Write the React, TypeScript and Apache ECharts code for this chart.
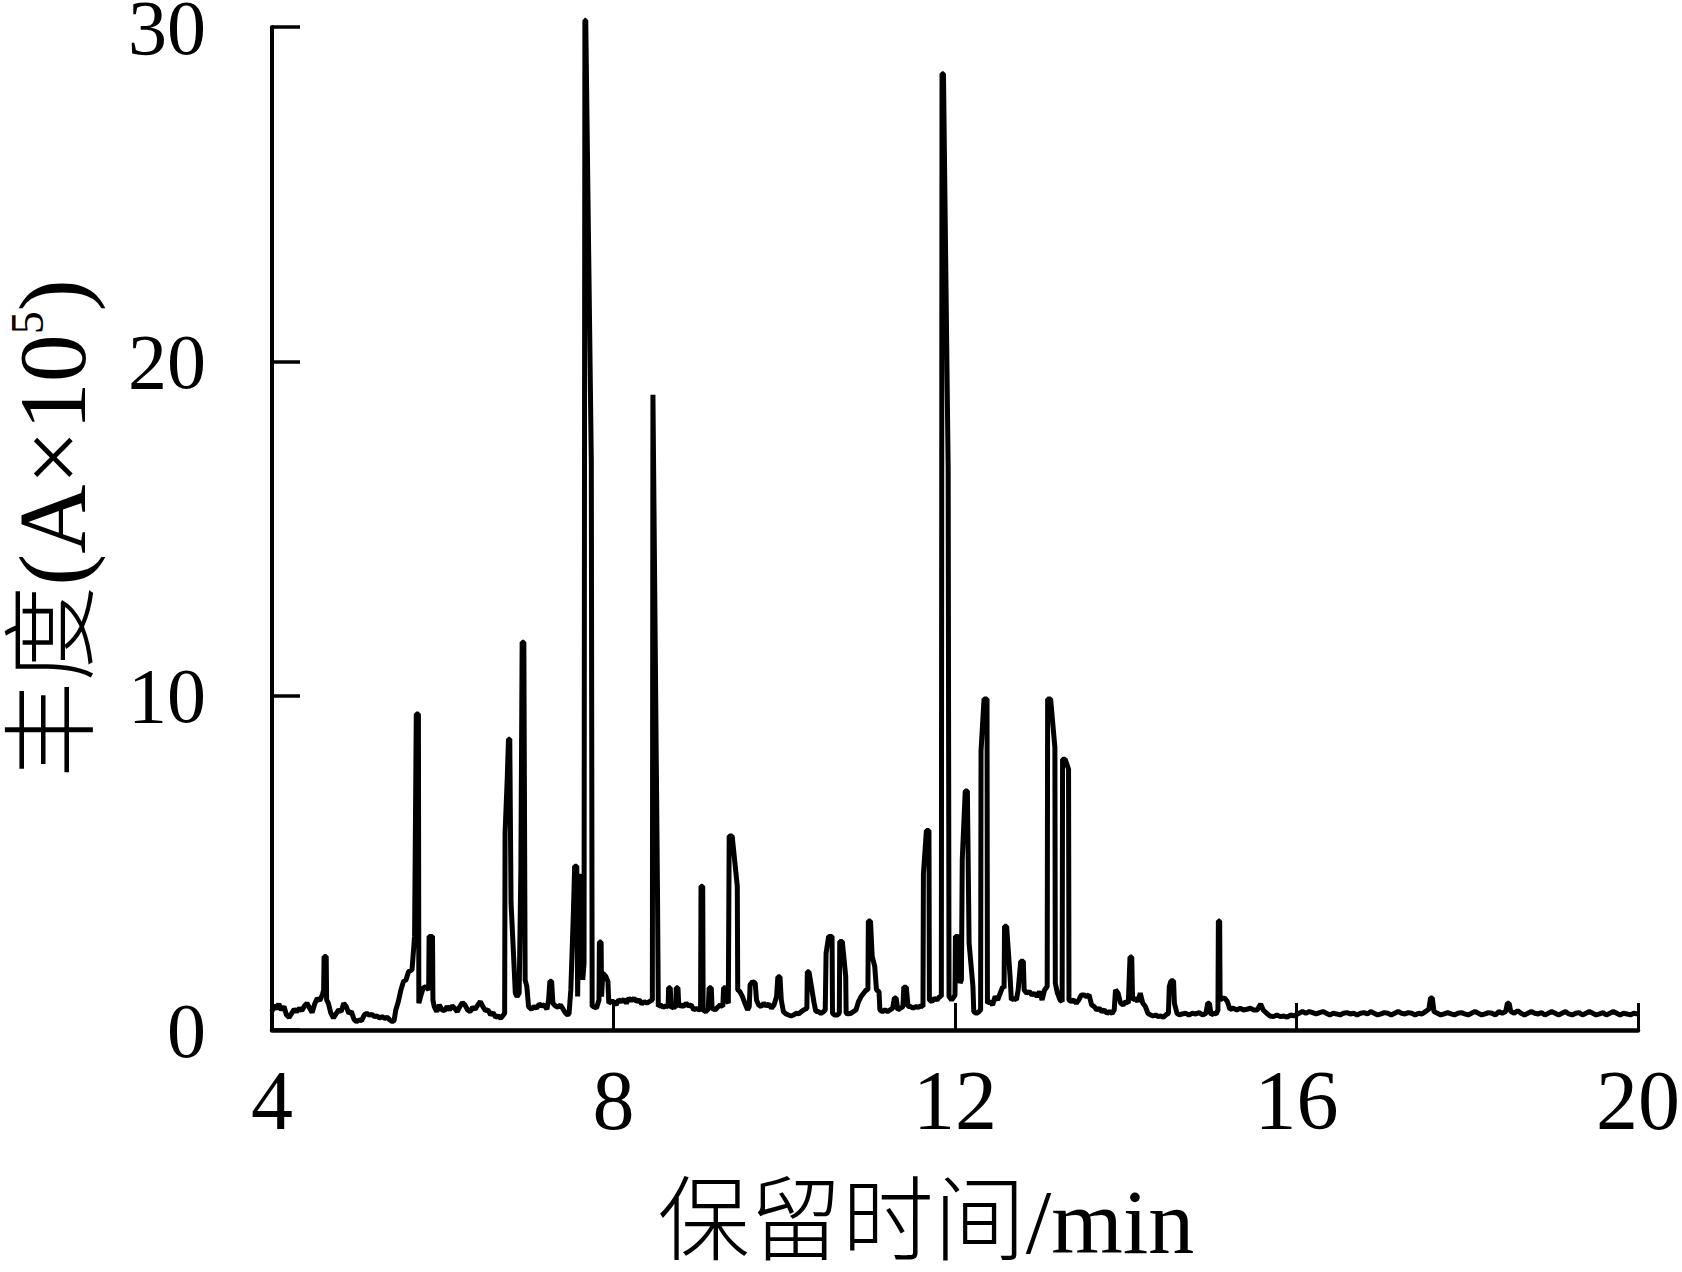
import React, { useEffect, useRef } from "react";
import * as echarts from "echarts";

// Retention time (min) / abundance (A x 10^5) pairs
const segment4to545 = [
  [4.00, 0.55], [4.02, 0.75], [4.05, 0.62], [4.08, 0.78], [4.11, 0.6], [4.14, 0.7], [4.17, 0.45], [4.20, 0.38],
  [4.23, 0.5], [4.26, 0.62], [4.29, 0.55], [4.32, 0.65], [4.35, 0.58], [4.38, 0.72], [4.41, 0.8], [4.44, 0.66],
  [4.47, 0.52], [4.50, 0.78], [4.53, 0.95], [4.56, 0.88], [4.59, 1.05], [4.605, 1.2], [4.61, 2.2], [4.635, 2.2],
  [4.64, 0.9], [4.66, 0.8], [4.69, 0.5], [4.72, 0.36], [4.75, 0.48], [4.78, 0.6], [4.81, 0.55], [4.84, 0.8],
  [4.87, 0.7], [4.90, 0.5], [4.93, 0.55], [4.96, 0.32], [4.99, 0.25], [5.02, 0.3], [5.05, 0.28], [5.08, 0.45],
  [5.11, 0.5], [5.14, 0.44], [5.17, 0.47], [5.20, 0.4], [5.23, 0.42], [5.26, 0.36], [5.29, 0.4], [5.32, 0.35],
  [5.35, 0.38], [5.38, 0.3], [5.41, 0.25], [5.43, 0.28],
];

const segment545to672 = [
  [5.45, 0.6], [5.48, 0.85], [5.51, 1.2], [5.54, 1.45], [5.57, 1.5], [5.60, 1.75], [5.64, 1.8], [5.67, 2.8],
  [5.69, 9.45], [5.715, 9.45], [5.72, 0.8], [5.74, 1.0], [5.77, 1.25], [5.80, 1.3], [5.835, 1.2], [5.84, 2.8],
  [5.88, 2.8], [5.885, 0.9], [5.90, 0.7], [5.93, 0.55], [5.96, 0.75], [5.99, 0.6], [6.02, 0.58], [6.05, 0.7],
  [6.08, 0.6], [6.11, 0.72], [6.14, 0.65], [6.17, 0.55], [6.20, 0.7], [6.23, 0.82], [6.26, 0.75], [6.29, 0.6],
  [6.32, 0.55], [6.35, 0.68], [6.38, 0.62], [6.41, 0.75], [6.44, 0.85], [6.47, 0.7], [6.50, 0.58], [6.53, 0.6],
  [6.56, 0.45], [6.59, 0.52], [6.62, 0.38], [6.65, 0.42], [6.68, 0.35], [6.71, 0.45],
];

const segment672to747 = [
  [6.725, 0.5], [6.73, 5.9], [6.755, 7.5], [6.77, 8.7], [6.785, 8.7], [6.80, 3.8], [6.83, 2.2], [6.85, 1.1],
  [6.87, 1.0], [6.895, 1.1], [6.915, 4.8], [6.93, 11.6], [6.95, 11.6], [6.965, 1.5], [6.985, 1.3], [7.005, 0.7],
  [7.04, 0.62], [7.07, 0.7], [7.10, 0.65], [7.13, 0.78], [7.16, 0.72], [7.19, 0.75], [7.22, 0.62], [7.24, 0.9],
  [7.255, 1.46], [7.275, 1.46], [7.29, 0.8], [7.32, 0.72], [7.35, 0.68], [7.38, 0.75], [7.41, 0.62], [7.44, 0.5],
  [7.465, 0.45],
];

const segment748to800 = [
  [7.48, 0.5], [7.50, 1.2], [7.53, 3.5], [7.545, 4.9], [7.57, 4.9], [7.58, 1.0], [7.595, 4.6], [7.62, 4.6],
  [7.64, 1.5], [7.655, 2.0], [7.665, 30.2], [7.675, 30.2], [7.74, 17.0], [7.75, 0.7], [7.77, 0.7], [7.80, 0.65],
  [7.83, 0.9], [7.835, 2.63], [7.855, 2.63], [7.86, 1.0], [7.875, 1.7], [7.91, 1.6], [7.935, 1.45], [7.945, 0.8],
  [7.97, 0.85],
];

const segment800to946 = [
  [8.00, 0.85], [8.03, 0.75], [8.06, 0.9], [8.09, 0.85], [8.12, 0.92], [8.15, 0.8], [8.18, 0.95], [8.21, 0.88],
  [8.24, 0.95], [8.27, 0.85], [8.30, 0.9], [8.33, 0.78], [8.36, 0.85], [8.39, 0.8], [8.42, 0.85], [8.455, 0.9],
  [8.462, 19.0], [8.47, 19.0], [8.515, 4.2], [8.525, 0.7], [8.55, 0.75], [8.58, 0.68], [8.61, 0.72], [8.64, 0.7],
  [8.645, 1.26], [8.665, 1.26], [8.675, 0.65], [8.70, 0.7], [8.73, 0.68], [8.735, 1.26], [8.755, 1.26], [8.765, 0.7],
  [8.79, 0.75], [8.82, 0.7], [8.85, 0.8], [8.88, 0.72], [8.91, 0.75], [8.94, 0.6], [8.97, 0.65], [9.00, 0.6],
  [9.02, 0.62], [9.025, 4.3], [9.045, 4.3], [9.05, 0.6], [9.08, 0.55], [9.11, 0.62], [9.12, 1.26], [9.145, 1.26],
  [9.155, 0.65], [9.19, 0.6], [9.22, 0.68], [9.25, 0.75], [9.28, 0.7], [9.29, 1.26], [9.31, 1.26], [9.325, 0.9],
  [9.345, 0.8], [9.355, 5.8], [9.39, 5.8], [9.45, 4.3], [9.455, 1.2],
];

const segment948to1193 = [
  [9.48, 1.15], [9.51, 1.0], [9.54, 0.8], [9.57, 0.6], [9.59, 0.7], [9.60, 1.35], [9.63, 1.45], [9.66, 1.4],
  [9.675, 0.9], [9.70, 0.75], [9.73, 0.7], [9.76, 0.8], [9.79, 0.72], [9.82, 0.78], [9.85, 0.65], [9.88, 0.75],
  [9.91, 1.0], [9.925, 1.59], [9.95, 1.59], [9.965, 0.9], [9.99, 0.55], [10.02, 0.48], [10.05, 0.45], [10.08, 0.42],
  [10.11, 0.45], [10.14, 0.5], [10.17, 0.48], [10.20, 0.55], [10.23, 0.6], [10.265, 0.65], [10.27, 1.74], [10.29, 1.74],
  [10.35, 0.8], [10.37, 0.55], [10.40, 0.55], [10.43, 0.5], [10.46, 0.55], [10.48, 0.6], [10.49, 2.3], [10.52, 2.8],
  [10.56, 2.8], [10.565, 0.5], [10.59, 0.45], [10.62, 0.45], [10.645, 0.5], [10.65, 2.65], [10.68, 2.65], [10.72, 1.6],
  [10.725, 0.5], [10.75, 0.48], [10.78, 0.5], [10.81, 0.55], [10.84, 0.6], [10.87, 0.85], [10.90, 1.0], [10.93, 1.1],
  [10.96, 1.2], [10.98, 1.2], [10.985, 3.26], [11.01, 3.26], [11.03, 2.2], [11.06, 1.9], [11.08, 1.2], [11.11, 1.15],
  [11.12, 0.6], [11.15, 0.55], [11.18, 0.6], [11.21, 0.55], [11.24, 0.6], [11.27, 0.65], [11.29, 0.96], [11.31, 0.96],
  [11.33, 0.6], [11.36, 0.65], [11.39, 0.7], [11.40, 1.28], [11.43, 1.28], [11.45, 0.7], [11.48, 0.7], [11.51, 0.65],
  [11.54, 0.7], [11.57, 0.68], [11.60, 0.72], [11.625, 0.7], [11.63, 4.66], [11.665, 5.97], [11.695, 5.97], [11.70, 0.9],
  [11.73, 0.85], [11.76, 0.95], [11.79, 0.9], [11.82, 1.0], [11.84, 1.0], [11.848, 28.6], [11.865, 28.6], [11.92, 16.8],
  [11.93, 1.0],
];

const segment1195to1463 = [
  [11.96, 0.9], [11.99, 1.0], [12.00, 1.05], [12.005, 2.8], [12.04, 2.8], [12.06, 1.4], [12.075, 1.5], [12.085, 5.1],
  [12.12, 7.15], [12.145, 7.15], [12.165, 2.6], [12.21, 1.3], [12.22, 0.55], [12.25, 0.5], [12.28, 0.55], [12.30, 0.6],
  [12.305, 8.35], [12.34, 9.9], [12.375, 9.9], [12.38, 0.8], [12.41, 0.85], [12.44, 0.75], [12.47, 1.0], [12.50, 0.9],
  [12.53, 1.1], [12.56, 1.3], [12.575, 1.25], [12.58, 3.1], [12.605, 3.1], [12.645, 1.6], [12.66, 0.9], [12.69, 0.95],
  [12.72, 0.9], [12.74, 1.2], [12.77, 2.06], [12.80, 2.06], [12.81, 1.2], [12.84, 1.1], [12.87, 1.15], [12.90, 1.05],
  [12.93, 1.1], [12.96, 1.0], [12.99, 1.15], [13.02, 0.9], [13.05, 1.2], [13.08, 1.3], [13.085, 9.9], [13.12, 9.9],
  [13.17, 8.45], [13.175, 1.4], [13.20, 1.1], [13.23, 0.9], [13.255, 0.85], [13.26, 8.1], [13.29, 8.1], [13.33, 7.8],
  [13.335, 0.9], [13.36, 0.85], [13.39, 0.9], [13.42, 0.8], [13.45, 0.9], [13.48, 1.05], [13.51, 1.05], [13.54, 1.0],
  [13.57, 1.05], [13.60, 0.75], [13.63, 0.7], [13.66, 0.6], [13.69, 0.65], [13.72, 0.55], [13.75, 0.6], [13.78, 0.5],
  [13.81, 0.55], [13.84, 0.5], [13.865, 0.6], [13.88, 1.2], [13.91, 1.1], [13.94, 0.8], [13.97, 0.75], [14.00, 0.85],
  [14.03, 0.8], [14.05, 2.18], [14.07, 2.18], [14.08, 0.9], [14.11, 0.95], [14.14, 0.85], [14.17, 1.1], [14.20, 0.8],
  [14.23, 0.7], [14.26, 0.5], [14.29, 0.45], [14.32, 0.42], [14.35, 0.45], [14.38, 0.4], [14.41, 0.42], [14.44, 0.38],
  [14.47, 0.45], [14.50, 0.5], [14.51, 1.3], [14.53, 1.47], [14.56, 1.47], [14.57, 0.8], [14.60, 0.5], [14.63, 0.45],
];

const segment1466to2000 = [
  [14.66, 0.48], [14.70, 0.5], [14.74, 0.45], [14.78, 0.5], [14.82, 0.48], [14.86, 0.52], [14.90, 0.45], [14.94, 0.5],
  [14.96, 0.8], [14.98, 0.8], [15.00, 0.45], [15.03, 0.5], [15.06, 0.48], [15.08, 0.6], [15.085, 3.26], [15.10, 3.26],
  [15.105, 0.9], [15.13, 0.95], [15.16, 0.95], [15.19, 0.85], [15.22, 0.62], [15.26, 0.65], [15.30, 0.6], [15.34, 0.65],
  [15.38, 0.6], [15.42, 0.62], [15.46, 0.65], [15.50, 0.6], [15.54, 0.6], [15.58, 0.78], [15.61, 0.6], [15.65, 0.5],
  [15.69, 0.42], [15.73, 0.4], [15.77, 0.45], [15.81, 0.4], [15.85, 0.42], [15.89, 0.38], [15.93, 0.45], [15.97, 0.42],
  [16.03, 0.5], [16.07, 0.55], [16.11, 0.5], [16.15, 0.55], [16.19, 0.52], [16.23, 0.48], [16.27, 0.52], [16.31, 0.55],
  [16.35, 0.5], [16.39, 0.45], [16.43, 0.5], [16.47, 0.48], [16.51, 0.45], [16.55, 0.5], [16.59, 0.52], [16.63, 0.48],
  [16.67, 0.5], [16.71, 0.45], [16.75, 0.5], [16.79, 0.52], [16.83, 0.48], [16.87, 0.55], [16.91, 0.5], [16.95, 0.45],
  [16.99, 0.48], [17.03, 0.52], [17.07, 0.5], [17.11, 0.45], [17.15, 0.5], [17.19, 0.55], [17.23, 0.5], [17.27, 0.48],
  [17.31, 0.52], [17.35, 0.5], [17.39, 0.45], [17.43, 0.5], [17.47, 0.48], [17.51, 0.55], [17.55, 0.62], [17.57, 0.96],
  [17.59, 0.96], [17.61, 0.55], [17.65, 0.5], [17.69, 0.45], [17.73, 0.48], [17.77, 0.52], [17.81, 0.48], [17.85, 0.45],
  [17.89, 0.5], [17.93, 0.52], [17.97, 0.48], [18.01, 0.45], [18.05, 0.5], [18.09, 0.55], [18.13, 0.5], [18.17, 0.45],
  [18.21, 0.48], [18.25, 0.52], [18.29, 0.5], [18.33, 0.45], [18.37, 0.55], [18.41, 0.5], [18.45, 0.55], [18.47, 0.8],
  [18.49, 0.8], [18.51, 0.55], [18.55, 0.5], [18.59, 0.58], [18.63, 0.5], [18.67, 0.45], [18.71, 0.5], [18.75, 0.55],
  [18.79, 0.5], [18.83, 0.48], [18.87, 0.52], [18.91, 0.45], [18.95, 0.5], [18.99, 0.55], [19.03, 0.5], [19.07, 0.45],
  [19.11, 0.5], [19.15, 0.55], [19.19, 0.48], [19.23, 0.45], [19.27, 0.5], [19.31, 0.52], [19.35, 0.45], [19.39, 0.5],
  [19.43, 0.55], [19.47, 0.5], [19.51, 0.45], [19.55, 0.48], [19.59, 0.52], [19.63, 0.45], [19.67, 0.5], [19.71, 0.55],
  [19.75, 0.5], [19.79, 0.45], [19.83, 0.5], [19.87, 0.48], [19.91, 0.45], [19.95, 0.5], [20.0, 0.48],
];

const chromatogram = [
  ...segment4to545,
  ...segment545to672,
  ...segment672to747,
  ...segment748to800,
  ...segment800to946,
  ...segment948to1193,
  ...segment1195to1463,
  ...segment1466to2000,
];

const xTicks = [4, 8, 12, 16, 20];
const yTicks = [0, 10, 20, 30];

const xAxisTitle = "保留时间/min";
const yAxisTitle = "丰度(A×10{sup|5})";

const FONT = "'Liberation Serif', 'Noto Sans CJK SC', serif";

export default function App() {
  const ref = useRef<HTMLDivElement>(null);

  useEffect(() => {
    if (!ref.current) return;
    const chart = echarts.init(ref.current, null, { renderer: "svg" });
    chart.setOption({
      animation: false,
      backgroundColor: "#ffffff",
      grid: {
        left: 272,
        right: 44,
        top: 27,
        bottom: 242,
        containLabel: false,
        outerBoundsMode: "none",
      },
      xAxis: {
        type: "value",
        min: xTicks[0],
        max: xTicks[xTicks.length - 1],
        interval: xTicks[1] - xTicks[0],
        name: xAxisTitle,
        nameLocation: "middle",
        nameGap: 146,
        nameTextStyle: {
          fontFamily: FONT,
          fontSize: 92,
          fontWeight: 300,
          color: "#000",
          padding: [0, 58, 0, 0],
        },
        axisLine: { show: true, onZero: false, lineStyle: { color: "#000", width: 4.5 } },
        axisTick: { show: true, inside: true, length: 27, lineStyle: { color: "#000", width: 3 } },
        axisLabel: {
          margin: 28,
          fontFamily: FONT,
          fontSize: 84,
          color: "#000",
        },
        splitLine: { show: false },
      },
      yAxis: {
        type: "value",
        min: yTicks[0],
        max: yTicks[yTicks.length - 1],
        interval: yTicks[1] - yTicks[0],
        name: yAxisTitle,
        nameLocation: "middle",
        nameGap: 172,
        nameTextStyle: {
          fontFamily: FONT,
          fontSize: 96,
          fontWeight: 300,
          color: "#000",
          rich: {
            sup: {
              fontFamily: FONT,
              fontSize: 46,
              color: "#000",
              verticalAlign: "top",
            },
          },
        },
        axisLine: { show: true, lineStyle: { color: "#000", width: 4 } },
        axisTick: { show: true, inside: true, length: 28, lineStyle: { color: "#000", width: 3.5 } },
        axisLabel: {
          margin: 66,
          fontFamily: FONT,
          fontSize: 78,
          lineHeight: 50,
          padding: [12, 0, 0, 0],
          color: "#000",
        },
        splitLine: { show: false },
      },
      series: [
        {
          type: "line",
          data: chromatogram,
          showSymbol: false,
          symbol: "none",
          clip: false,
          silent: true,
          lineStyle: { color: "#000", width: 5 },
        },
      ],
    });
    return () => chart.dispose();
  }, []);

  return (
    <div
      ref={ref}
      style={{ position: "absolute", left: 0, top: 0, width: 1682, height: 1272, background: "#fff" }}
    />
  );
}
